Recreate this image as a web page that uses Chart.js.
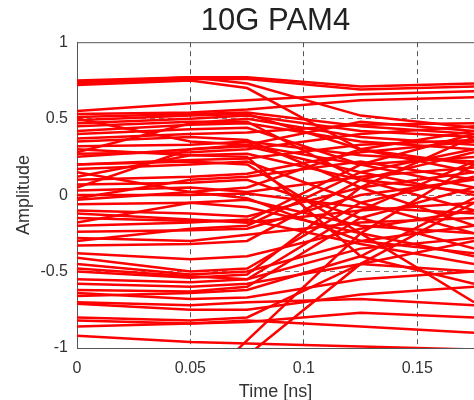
<!DOCTYPE html>
<html>
<head>
<meta charset="utf-8">
<script src="https://cdn.jsdelivr.net/npm/chart.js@4.4.1/dist/chart.umd.min.js"></script>
<style>
  html, body { margin: 0; padding: 0; background: #fff; }
  #wrap { width: 474px; height: 400px; }
</style>
</head>
<body>
<div id="wrap"><canvas id="eye"></canvas></div>
<script>
// sample times (ns)
const times = [0, 0.05, 0.075, 0.125, 0.175];

// traces, one row per sweep
const traces = [
  [0.74, 0.77, 0.77, 0.71, 0.73],
  [0.73, 0.76, 0.76, 0.69, 0.71],
  [0.75, 0.77, 0.73, 0.52, 0.44],
  [0.72, 0.75, 0.70, 0.30, 0.15],
  [0.55, 0.60, 0.62, 0.66, 0.68],
  [0.53, 0.54, 0.56, 0.62, 0.64],
  [0.51, 0.53, 0.54, 0.45, 0.40],
  [0.49, 0.52, 0.53, 0.30, 0.20],
  [0.47, 0.50, 0.52, 0.42, 0.38],
  [0.45, 0.48, 0.48, 0.10, -0.10],
  [0.42, 0.46, 0.47, 0.35, 0.30],
  [0.40, 0.43, 0.44, 0.20, 0.05],
  [0.37, 0.40, 0.41, 0.46, 0.47],
  [0.35, 0.38, 0.36, 0.05, -0.20],
  [0.32, 0.33, 0.35, 0.26, 0.22],
  [0.30, 0.26, 0.25, -0.40, -0.58],
  [0.28, 0.47, 0.50, 0.38, 0.33],
  [0.50, 0.35, 0.33, 0.20, 0.25],
  [0.27, 0.28, 0.30, 0.40, 0.45],
  [0.25, 0.30, 0.32, 0.15, 0.00],
  [0.20, 0.23, 0.24, 0.33, 0.36],
  [0.20, 0.22, 0.20, -0.25, -0.70],
  [0.17, 0.20, 0.22, -0.05, -0.25],
  [0.12, 0.26, 0.27, 0.10, 0.02],
  [0.05, 0.30, 0.33, 0.48, 0.42],
  [0.10, 0.12, 0.14, 0.28, 0.35],
  [0.07, 0.08, 0.10, -0.15, -0.35],
  [0.15, 0.02, -0.02, -0.30, -0.38],
  [0.03, 0.05, 0.02, 0.12, 0.18],
  [0.00, 0.00, 0.01, -0.08, -0.12],
  [-0.03, 0.02, 0.05, 0.30, 0.42],
  [-0.02, 0.10, 0.12, 0.22, 0.10],
  [-0.06, -0.05, -0.08, -0.25, -0.40],
  [-0.10, -0.12, -0.14, 0.05, 0.15],
  [-0.12, -0.16, -0.18, -0.10, -0.05],
  [-0.15, -0.17, -0.17, 0.20, 0.40],
  [-0.18, -0.05, -0.03, -0.20, -0.25],
  [-0.20, -0.18, -0.16, -0.32, -0.45],
  [-0.24, -0.23, -0.22, 0.00, 0.10],
  [-0.28, -0.30, -0.26, -0.18, -0.15],
  [-0.30, -0.22, -0.20, 0.15, 0.30],
  [-0.33, -0.32, -0.30, 0.10, 0.28],
  [-0.38, -0.42, -0.40, -0.22, -0.10],
  [-0.41, -0.50, -0.48, -0.05, 0.12],
  [-0.45, -0.52, -0.50, -0.30, -0.20],
  [-0.48, -0.53, -0.55, -0.10, 0.22],
  [-0.50, -0.54, -0.52, 0.05, 0.38],
  [-0.55, -0.57, -0.55, -0.35, -0.28],
  [-0.58, -0.60, -0.58, -0.45, -0.50],
  [-0.62, -0.63, -0.60, -0.15, 0.05],
  [-0.64, -0.68, -0.67, -0.55, -0.50],
  [-0.66, -0.64, -0.62, -0.40, -0.02],
  [-0.70, -0.72, -0.70, -0.68, -0.72],
  [-0.71, -0.75, -0.75, -0.65, -0.60],
  [-0.80, -0.82, -0.80, -0.45, -0.30],
  [-0.82, -0.84, -0.83, -0.77, -0.80],
  [-0.86, -0.84, -0.82, -0.86, -0.90],
  [-0.92, -0.96, -0.97, -0.99, -1.01],
  [-1.60, -1.30, -0.95, -0.25, 0.20],
  [-1.70, -1.40, -1.05, -0.45, -0.05]
];

const xTicks = [0, 0.05, 0.1, 0.15];
const yTicks = [-1, -0.5, 0, 0.5, 1];

const datasets = traces.map(tr => ({
  data: tr.map((v, i) => ({ x: times[i], y: v })),
  borderColor: '#ff0000',
  borderWidth: 2.5,
  pointRadius: 0,
  tension: 0,
  fill: false
}));

// solid top edge of the axes box
const boxTop = {
  id: 'boxTop',
  afterDraw(chart) {
    const { ctx, chartArea } = chart;
    ctx.save();
    ctx.strokeStyle = '#555';
    ctx.lineWidth = 1;
    ctx.beginPath();
    ctx.moveTo(chartArea.left, chartArea.top + 0.5);
    ctx.lineTo(chartArea.right, chartArea.top + 0.5);
    ctx.stroke();
    ctx.restore();
  }
};

const font = '"Liberation Sans", Arial, sans-serif';

new Chart(document.getElementById('eye'), {
  type: 'line',
  data: { datasets },
  plugins: [boxTop],
  options: {
    responsive: true,
    maintainAspectRatio: false,
    animation: false,
    layout: { padding: 0 },
    plugins: {
      legend: { display: false },
      tooltip: { enabled: false },
      title: {
        display: true,
        text: '10G PAM4',
        fullSize: false,
        color: '#222',
        font: { family: font, size: 31, weight: 'normal' },
        padding: { top: 3, bottom: 2 }
      }
    },
    scales: {
      x: {
        type: 'linear',
        min: 0,
        max: 0.175,
        afterFit(scale) { scale.height = 52; },
        afterBuildTicks(scale) { scale.ticks = xTicks.map(v => ({ value: v })); },
        ticks: {
          color: '#333',
          font: { family: font, size: 16 },
          padding: 11,
          callback: v => String(v)
        },
        grid: {
          drawTicks: false,
          color: ctx => (ctx.tick && ctx.tick.value === 0) ? 'rgba(0,0,0,0)' : 'rgba(40,40,40,0.8)',
          lineWidth: 1
        },
        border: { display: true, color: '#555', dash: [5, 4] },
        title: {
          display: true,
          text: 'Time [ns]',
          color: '#333',
          font: { family: font, size: 18 },
          padding: { top: 0, bottom: -3 }
        }
      },
      y: {
        min: -1,
        max: 1,
        afterFit(scale) { scale.width = 77; },
        afterBuildTicks(scale) { scale.ticks = yTicks.map(v => ({ value: v })); },
        ticks: {
          color: '#333',
          font: { family: font, size: 16 },
          padding: 9,
          callback: v => String(v)
        },
        grid: {
          drawTicks: false,
          color: ctx => (ctx.tick && Math.abs(ctx.tick.value) === 1) ? 'rgba(0,0,0,0)' : 'rgba(70,70,70,0.7)',
          lineWidth: 1
        },
        border: { display: true, color: '#555', dash: [5, 4] },
        title: {
          display: true,
          text: 'Amplitude',
          color: '#333',
          font: { family: font, size: 18 },
          padding: { top: 13, bottom: 0 }
        }
      }
    }
  }
});
</script>
</body>
</html>
